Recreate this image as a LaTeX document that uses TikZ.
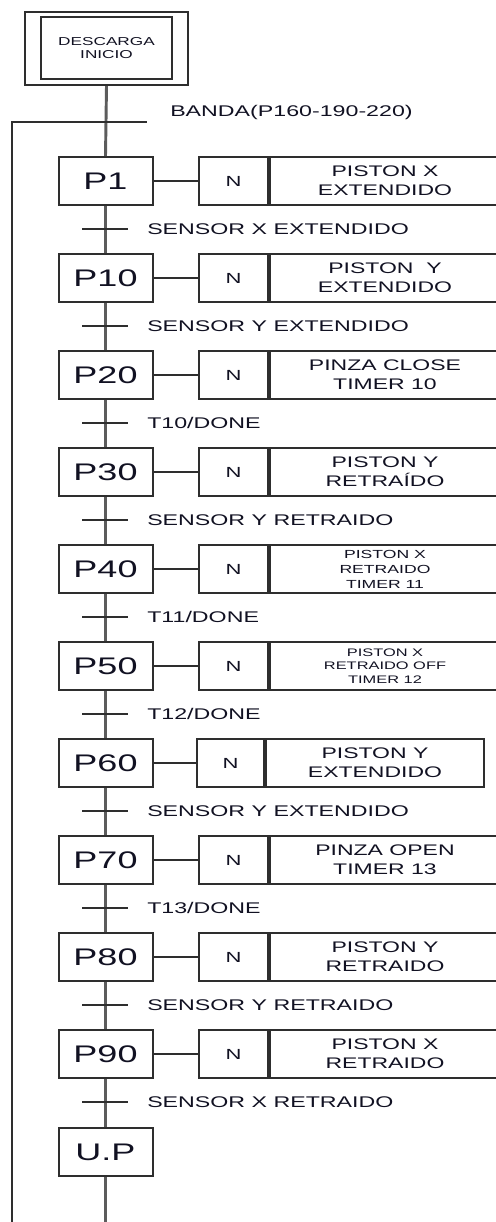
\documentclass[tikz,border=0pt]{standalone}
\usepackage{fontspec}
\setmainfont{Liberation Sans}[FakeStretch=1.5]
\definecolor{boxc}{HTML}{2E2E2E}
\definecolor{linec}{HTML}{5C5C5C}
\definecolor{txtc}{HTML}{111122}
\begin{document}
\begin{tikzpicture}[x=0.75pt,y=-0.75pt,
  stepbox/.style={draw=boxc,line width=1.5pt,minimum width=70.5pt,minimum height=36pt,inner sep=0pt,text=txtc,font=\fontsize{18}{20}\selectfont},
  nbox/.style={draw=boxc,line width=1.5pt,minimum width=51.75pt,minimum height=36pt,inner sep=0pt,text=txtc,font=\fontsize{11}{13}\selectfont},
  actbox/.style={draw=boxc,line width=1.5pt,minimum width=172.5pt,minimum height=36pt,inner sep=0pt,align=center,text=txtc,anchor=west,font=\fontsize{11.5}{14}\selectfont},
  smallact/.style={font=\fontsize{8.8}{11.2}\selectfont},
  tinyact/.style={font=\fontsize{8.2}{10.1}\selectfont},
  tlabel/.style={anchor=west,inner sep=0pt,text=txtc,font=\fontsize{11.6}{13}\selectfont},
  mainline/.style={draw=linec,line width=2.2pt},
  bar/.style={draw=boxc,line width=1.3pt},
  link/.style={draw=boxc,line width=1.3pt},
  retline/.style={draw=boxc,line width=1.6pt}
]
\useasboundingbox (0,0) rectangle (496,1222);

% initial step
\node[draw=boxc,line width=1.6pt,minimum width=122.25pt,minimum height=54.75pt,inner sep=0pt] (top) at (106.5,48.5) {};
\node[draw=boxc,line width=1.5pt,minimum width=98.25pt,minimum height=46.5pt,inner sep=0pt,align=center,text=txtc,font=\fontsize{8.6}{9.5}\selectfont] (topin) at (106.5,48) {DESCARGA\\INICIO};

% steps
\node[stepbox] (P1) at (105.5,181) {P1};
\node[stepbox] (P10) at (105.5,278) {P10};
\node[stepbox] (P20) at (105.5,375) {P20};
\node[stepbox] (P30) at (105.5,472) {P30};
\node[stepbox] (P40) at (105.5,569) {P40};
\node[stepbox] (P50) at (105.5,666) {P50};
\node[stepbox] (P60) at (105.5,763) {P60};
\node[stepbox] (P70) at (105.5,860) {P70};
\node[stepbox] (P80) at (105.5,957) {P80};
\node[stepbox] (P90) at (105.5,1054) {P90};
\node[stepbox] (UP) at (105.5,1152) {U.P};

% action boxes
\node[nbox] (N1) at (233.5,181) {N};
\node[actbox] (A1) at (N1.east) {PISTON X\\EXTENDIDO};
\node[nbox] (N10) at (233.5,278) {N};
\node[actbox] (A10) at (N10.east) {PISTON\ \ Y\\EXTENDIDO};
\node[nbox] (N20) at (233.5,375) {N};
\node[actbox] (A20) at (N20.east) {PINZA CLOSE\\TIMER 10};
\node[nbox] (N30) at (233.5,472) {N};
\node[actbox] (A30) at (N30.east) {PISTON Y\\RETRAÍDO};
\node[nbox] (N40) at (233.5,569) {N};
\node[actbox,smallact] (A40) at (N40.east) {PISTON X\\RETRAIDO\\TIMER 11};
\node[nbox] (N50) at (233.5,666) {N};
\node[actbox,tinyact] (A50) at (N50.east) {PISTON X\\RETRAIDO OFF\\TIMER 12};
\node[nbox,minimum width=50.25pt] (N60) at (230.5,763) {N};
\node[actbox,minimum width=163.5pt] (A60) at (N60.east) {PISTON Y\\EXTENDIDO};
\node[nbox] (N70) at (233.5,860) {N};
\node[actbox] (A70) at (N70.east) {PINZA OPEN\\TIMER 13};
\node[nbox] (N80) at (233.5,957) {N};
\node[actbox] (A80) at (N80.east) {PISTON Y\\RETRAIDO};
\node[nbox] (N90) at (233.5,1054) {N};
\node[actbox] (A90) at (N90.east) {PISTON X\\RETRAIDO};

% step-to-action links
\foreach \s in {1,10,20,30,40,50,60,70,80,90}{
  \draw[link] (P\s.east) -- (N\s.west);
}

% main vertical line
\coordinate (bottom) at (105.5,1222);
\draw[mainline] (top.south) -- (P1.north);
\draw[mainline] (P1) -- (P10);
\draw[mainline] (P10) -- (P20);
\draw[mainline] (P20) -- (P30);
\draw[mainline] (P30) -- (P40);
\draw[mainline] (P40) -- (P50);
\draw[mainline] (P50) -- (P60);
\draw[mainline] (P60) -- (P70);
\draw[mainline] (P70) -- (P80);
\draw[mainline] (P80) -- (P90);
\draw[mainline] (P90) -- (UP);
\draw[mainline] (UP.south) -- (bottom);

% return line
\coordinate (r1) at (12,1222);
\coordinate (r2) at (12,122);
\coordinate (r3) at (147,122);
\draw[retline] (r1) -- (r2) -- (r3);
\node[tlabel] (lb0) at (170,112) {BANDA(P160-190-220)};

% transitions
\foreach \y/\name/\txt in {229/t1/{SENSOR X EXTENDIDO}, 326/t2/{SENSOR Y EXTENDIDO}, 423/t3/{T10/DONE}, 520/t4/{SENSOR Y RETRAIDO}, 617/t5/{T11/DONE}, 714/t6/{T12/DONE}, 811/t7/{SENSOR Y EXTENDIDO}, 908/t8/{T13/DONE}, 1005/t9/{SENSOR Y RETRAIDO}, 1102/t10/{SENSOR X RETRAIDO}}{
  \coordinate (\name a) at (82,\y);
  \coordinate (\name b) at (128,\y);
  \draw[bar] (\name a) -- (\name b);
  \node[tlabel] (\name l) at (147,\y) {\txt};
}
\end{tikzpicture}
\end{document}
